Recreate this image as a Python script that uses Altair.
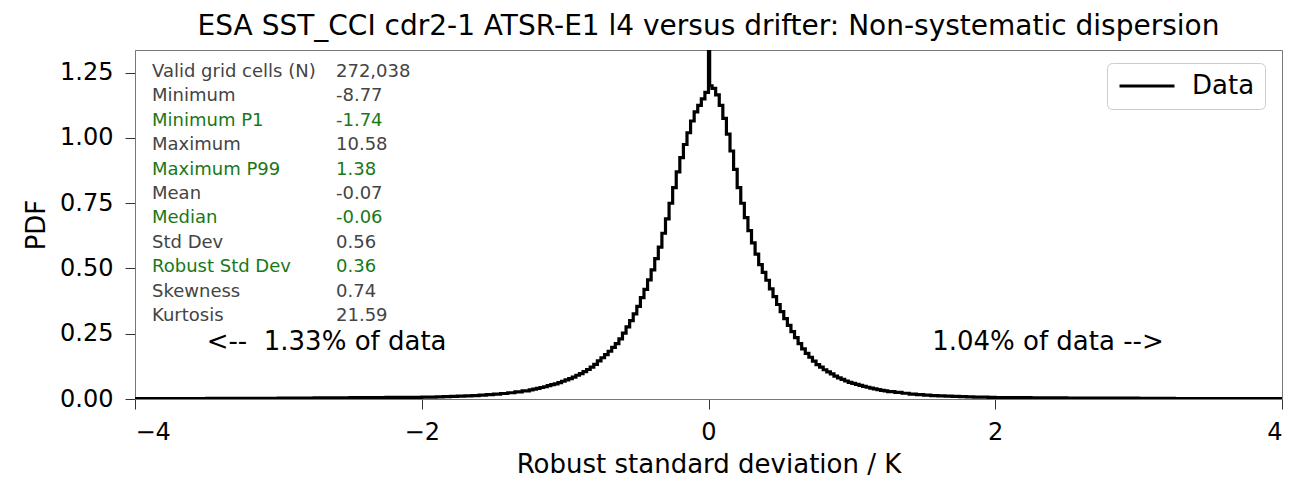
import altair as alt
import numpy as np
import pandas as pd

# ---------------- data ----------------
# outer tails: bins of 0.25 K (-4..-2 and 2..4)
far_left_pdf = [0.0015, 0.0018, 0.0022, 0.0027, 0.0033, 0.0040, 0.0050, 0.0060]
far_right_pdf = [0.0055, 0.0045, 0.0038, 0.0030, 0.0025, 0.0020, 0.0016, 0.0013]
# near tails: bins of 0.05 K (-2..-1.25 and 1.25..2)
near_left_pdf = [0.0070, 0.0075, 0.0080, 0.0090, 0.0100, 0.0110, 0.0120, 0.0130,
                 0.0150, 0.0170, 0.0190, 0.0210, 0.0240, 0.0270, 0.0310]
near_right_pdf = [0.0280, 0.0250, 0.0220, 0.0190, 0.0170, 0.0150, 0.0130, 0.0120,
                  0.0110, 0.0100, 0.0090, 0.0080, 0.0075, 0.0070, 0.0065]
# core: bins of 0.025 K (-1.25..0 and 0..1.25)
core_left_pdf = [0.035, 0.038, 0.041, 0.044, 0.047, 0.051, 0.055, 0.058, 0.063, 0.068,
                 0.073, 0.078, 0.084, 0.091, 0.097, 0.105, 0.113, 0.122, 0.133, 0.146,
                 0.158, 0.170, 0.183, 0.198, 0.212, 0.230, 0.252, 0.276, 0.300, 0.326,
                 0.355, 0.388, 0.420, 0.456, 0.495, 0.538, 0.582, 0.635, 0.690, 0.750,
                 0.810, 0.870, 0.925, 0.975, 1.020, 1.065, 1.100, 1.125, 1.150, 1.175]
core_right_pdf = [1.200, 1.190, 1.165, 1.125, 1.075, 1.015, 0.950, 0.880, 0.810, 0.750,
                  0.695, 0.645, 0.598, 0.555, 0.515, 0.485, 0.455, 0.422, 0.392, 0.362,
                  0.335, 0.308, 0.282, 0.258, 0.235, 0.212, 0.192, 0.175, 0.160, 0.145,
                  0.132, 0.122, 0.112, 0.104, 0.096, 0.088, 0.081, 0.075, 0.069, 0.064,
                  0.060, 0.056, 0.052, 0.048, 0.045, 0.042, 0.039, 0.036, 0.033, 0.031]
spike_pdf = 2.0  # narrow spike at zero (runs off the top of the axes)

stat_labels = ["Valid grid cells (N)", "Minimum", "Minimum P1", "Maximum", "Maximum P99",
               "Mean", "Median", "Std Dev", "Robust Std Dev", "Skewness", "Kurtosis"]
stat_values = ["272,038", "-8.77", "-1.74", "10.58", "1.38", "-0.07", "-0.06",
               "0.56", "0.36", "0.74", "21.59"]
stat_robust = [False, False, True, False, True, False, True, False, True, False, False]

# ---------------- build the step series (bin left edges) ----------------
def edges_from(start, step, n):
    return [round(start + i * step, 4) for i in range(n)]

edges, vals = [], []
edges += edges_from(-4.0, 0.25, 8);    vals += far_left_pdf
edges += edges_from(-2.0, 0.05, 15);   vals += near_left_pdf
edges += edges_from(-1.25, 0.025, 50); vals += core_left_pdf
edges += [0.0, 0.008];                 vals += [spike_pdf, core_right_pdf[0]]
edges += edges_from(0.025, 0.025, 49); vals += core_right_pdf[1:]
edges += edges_from(1.25, 0.05, 15);   vals += near_right_pdf
edges += edges_from(2.0, 0.25, 8);     vals += far_right_pdf
edges += [4.0];                        vals += [far_right_pdf[-1]]

hist = pd.DataFrame({"x": edges, "pdf": vals, "series": "Data"})
stats = pd.DataFrame({"label": stat_labels, "value": stat_values,
                      "robust": stat_robust, "row": list(range(len(stat_labels)))})

FONT = "DejaVu Sans"
GREEN = "#187818"
GRAY = "#444444"
W, H = 1147, 349

xscale = alt.Scale(domain=[-4, 4], nice=False, zero=False)
yscale = alt.Scale(domain=[0, 1.337], nice=False, zero=False)

line = alt.Chart(hist).mark_line(
    interpolate="step-after", strokeWidth=3.2, clip=True
).encode(
    x=alt.X("x:Q", scale=xscale,
            axis=alt.Axis(values=[-4, -2, 0, 2, 4], title="Robust standard deviation / K",
                          format="d", grid=False, labelPadding=11, titlePadding=7)),
    y=alt.Y("pdf:Q", scale=yscale,
            axis=alt.Axis(values=[0, 0.25, 0.5, 0.75, 1.0, 1.25], title="PDF",
                          format=".2f", grid=False, labelPadding=12, titlePadding=10)),
    color=alt.Color("series:N", scale=alt.Scale(domain=["Data"], range=["black"]),
                    legend=alt.Legend(title=None, orient="none", legendX=972, legendY=13,
                                      symbolType="M-2.75,0H2.75", symbolSize=400,
                                      symbolStrokeWidth=3, symbolOffset=17,
                                      labelFontSize=26, labelFont=FONT, labelColor="black",
                                      strokeColor="#cccccc", cornerRadius=5,
                                      padding=10, fillColor="white", labelOffset=32)),
)

ann = pd.DataFrame({"x": [-3.5, 1.56], "y": [0.186, 0.186],
                    "t": ["<--\u00a0 1.33% of data", "1.04% of data -->"]})
ann_text = alt.Chart(ann).mark_text(
    align="left", baseline="alphabetic", fontSize=26, font=FONT, color="black"
).encode(x=alt.X("x:Q", scale=xscale), y=alt.Y("y:Q", scale=yscale), text="t:N")

stat_lab = alt.Chart(stats).transform_calculate(
    py="22 + datum.row * 24.4"
).mark_text(align="left", baseline="middle", fontSize=18, font=FONT).encode(
    x=alt.value(17),
    y=alt.Y("py:Q", scale=None),
    text="label:N",
    color=alt.condition("datum.robust", alt.value(GREEN), alt.value(GRAY)),
)
stat_val = alt.Chart(stats).transform_calculate(
    py="22 + datum.row * 24.4"
).mark_text(align="left", baseline="middle", fontSize=18, font=FONT).encode(
    x=alt.value(201),
    y=alt.Y("py:Q", scale=None),
    text="value:N",
    color=alt.condition("datum.robust", alt.value(GREEN), alt.value(GRAY)),
)

chart = alt.layer(line, ann_text, stat_lab, stat_val).properties(
    width=W, height=H,
    autosize=alt.AutoSizeParams(type="none"),
    padding={"left": 127, "top": 42, "right": 21, "bottom": 82},
    title=alt.TitleParams("ESA SST_CCI cdr2-1 ATSR-E1 l4 versus drifter: Non-systematic dispersion",
                          font=FONT, fontSize=28, fontWeight="normal", color="black",
                          anchor="middle", offset=9),
).configure_view(
    stroke="#777777", strokeWidth=1
).configure_axis(
    domainColor="#777777", tickColor="#333333", tickSize=10, tickWidth=1,
    labelFont=FONT, labelFontSize=24, labelColor="black",
    titleFont=FONT, titleFontSize=26, titleFontWeight="normal", titleColor="black",
)

chart.save("out.html", embed_options={"renderer": "svg", "actions": False})
